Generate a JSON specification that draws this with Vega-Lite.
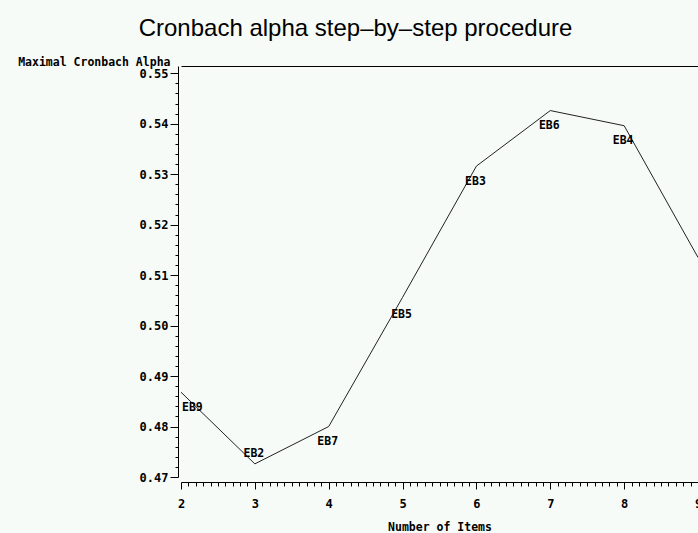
{
  "$schema": "https://vega.github.io/schema/vega-lite/v6.json",
  "width": 517,
  "height": 411,
  "autosize": {"type": "none"},
  "padding": {"left": 181, "top": 66, "right": 0, "bottom": 56},
  "background": "#f6fbf8",
  "config": {
    "view": {"stroke": null},
    "axis": {"grid": false, "domainColor": "#000", "tickColor": "#000", "labelColor": "#000", "titleColor": "#000", "labelFont": "DejaVu Sans Mono", "titleFont": "DejaVu Sans Mono", "labelFontWeight": "bold", "titleFontWeight": "bold", "labelFontSize": 12, "titleFontSize": 11.5}
  },
  "title": {
    "text": "Cronbach alpha step–by–step procedure",
    "font": "Liberation Sans",
    "fontSize": 24,
    "fontWeight": "normal",
    "color": "#000",
    "anchor": "middle",
    "frame": "group",
    "baseline": "alphabetic",
    "offset": -4,
    "dx": -84
  },
  "data": {
    "values": [
      {"items": 2, "alpha": 0.4868, "label": "EB9"},
      {"items": 3, "alpha": 0.4726, "label": "EB2"},
      {"items": 4, "alpha": 0.4800, "label": "EB7"},
      {"items": 5, "alpha": 0.5056, "label": "EB5"},
      {"items": 6, "alpha": 0.5316, "label": "EB3"},
      {"items": 7, "alpha": 0.5426, "label": "EB6"},
      {"items": 8, "alpha": 0.5396, "label": "EB4"},
      {"items": 9, "alpha": 0.5135, "label": "EB1"}
    ]
  },
  "layer": [
    {
      "mark": {"type": "line", "color": "#222", "strokeWidth": 1, "clip": false},
      "encoding": {
        "x": {
          "field": "items", "type": "quantitative",
          "scale": {"domain": [2, 9], "nice": false, "zero": false},
          "axis": {"orient": "bottom", "offset": 5, "values": [2, 3, 4, 5, 6, 7, 8, 9], "tickSize": 7, "labelPadding": 9, "labelFlush": false, "labelOverlap": false, "title": "Number of Items", "titlePadding": 12, "domainWidth": 1}
        },
        "y": {
          "field": "alpha", "type": "quantitative",
          "scale": {"domain": [0.47, 0.55143], "nice": false, "zero": false},
          "axis": {"orient": "left", "offset": 3, "values": [0.47, 0.48, 0.49, 0.5, 0.51, 0.52, 0.53, 0.54, 0.55], "format": ".2f", "tickSize": 8, "labelPadding": 2, "labelFlush": false, "labelOverlap": false, "title": "Maximal Cronbach Alpha", "titleAngle": 0, "titleAlign": "right", "titleBaseline": "alphabetic", "titleX": -8, "titleY": -1}
        }
      }
    },
    {
      "mark": {"type": "line", "opacity": 0},
      "encoding": {
        "x": {
          "field": "items", "type": "quantitative",
          "axis": {"orient": "bottom", "offset": 5, "domain": false, "labels": false, "title": null, "tickSize": 4,
            "values": [2.1, 2.2, 2.3, 2.4, 2.5, 2.6, 2.7, 2.8, 2.9, 3.1, 3.2, 3.3, 3.4, 3.5, 3.6, 3.7, 3.8, 3.9, 4.1, 4.2, 4.3, 4.4, 4.5, 4.6, 4.7, 4.8, 4.9, 5.1, 5.2, 5.3, 5.4, 5.5, 5.6, 5.7, 5.8, 5.9, 6.1, 6.2, 6.3, 6.4, 6.5, 6.6, 6.7, 6.8, 6.9, 7.1, 7.2, 7.3, 7.4, 7.5, 7.6, 7.7, 7.8, 7.9, 8.1, 8.2, 8.3, 8.4, 8.5, 8.6, 8.7, 8.8, 8.9]}
        },
        "y": {
          "field": "alpha", "type": "quantitative",
          "axis": {"orient": "left", "offset": 3, "domain": false, "labels": false, "title": null, "tickSize": 3,
            "values": [0.472, 0.474, 0.476, 0.478, 0.482, 0.484, 0.486, 0.488, 0.492, 0.494, 0.496, 0.498, 0.502, 0.504, 0.506, 0.508, 0.512, 0.514, 0.516, 0.518, 0.522, 0.524, 0.526, 0.528, 0.532, 0.534, 0.536, 0.538, 0.542, 0.544, 0.546, 0.548]}
        }
      }
    },
    {
      "mark": {"type": "line", "opacity": 0},
      "encoding": {
        "x": {"field": "items", "type": "quantitative", "axis": {"orient": "top", "offset": 0, "labels": false, "ticks": false, "title": null, "values": []}},
        "y": {"field": "alpha", "type": "quantitative", "axis": null}
      }
    },
    {
      "transform": [{"filter": {"field": "label", "oneOf": ["EB7", "EB3", "EB6", "EB4"]}}],
      "mark": {"type": "text", "font": "DejaVu Sans Mono", "fontWeight": "bold", "fontSize": 11.5, "color": "#000", "align": "center", "baseline": "middle", "dy": 15.5, "dx": -1},
      "encoding": {
        "x": {"field": "items", "type": "quantitative", "axis": null},
        "y": {"field": "alpha", "type": "quantitative", "axis": null},
        "text": {"field": "label"}
      }
    },
    {
      "transform": [{"filter": {"field": "label", "equal": "EB5"}}],
      "mark": {"type": "text", "font": "DejaVu Sans Mono", "fontWeight": "bold", "fontSize": 11.5, "color": "#000", "align": "center", "baseline": "middle", "dy": 18, "dx": -1},
      "encoding": {
        "x": {"field": "items", "type": "quantitative", "axis": null},
        "y": {"field": "alpha", "type": "quantitative", "axis": null},
        "text": {"field": "label"}
      }
    },
    {
      "transform": [{"filter": {"field": "label", "equal": "EB9"}}],
      "mark": {"type": "text", "font": "DejaVu Sans Mono", "fontWeight": "bold", "fontSize": 11.5, "color": "#000", "align": "left", "baseline": "middle", "dy": 16, "dx": 1},
      "encoding": {
        "x": {"field": "items", "type": "quantitative", "axis": null},
        "y": {"field": "alpha", "type": "quantitative", "axis": null},
        "text": {"field": "label"}
      }
    },
    {
      "transform": [{"filter": {"field": "label", "equal": "EB2"}}],
      "mark": {"type": "text", "font": "DejaVu Sans Mono", "fontWeight": "bold", "fontSize": 11.5, "color": "#000", "align": "center", "baseline": "middle", "dy": -10, "dx": -1},
      "encoding": {
        "x": {"field": "items", "type": "quantitative", "axis": null},
        "y": {"field": "alpha", "type": "quantitative", "axis": null},
        "text": {"field": "label"}
      }
    }
  ],
  "resolve": {"axis": {"x": "independent", "y": "independent"}}
}
